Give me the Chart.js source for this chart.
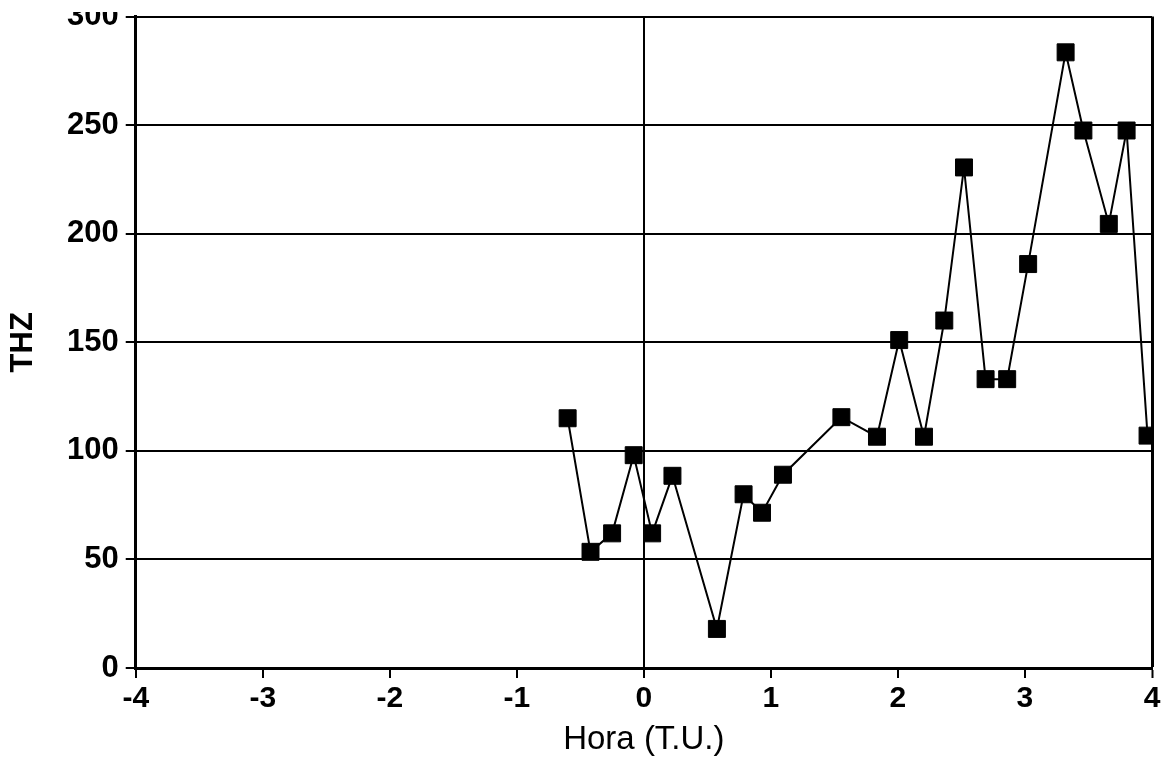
<!DOCTYPE html>
<html>
<head>
<meta charset="utf-8">
<title>THZ vs Hora (T.U.)</title>
<script src="https://cdn.jsdelivr.net/npm/chart.js@4/dist/chart.umd.min.js"></script>
<style>
    body { margin: 0; background: #fff; }
    /* the scan cuts the top of the "300" label, so clip the page a bit */
    #wrap { position: absolute; left: 0; top: 12px; width: 1167px; height: 747px; overflow: hidden; }
    #thz-chart { position: absolute; left: 0; top: -18px; }
</style>
</head>
<body>
<div id="wrap">
    <canvas id="thz-chart" width="1167" height="771"></canvas>
</div>
<script>
// Hora (T.U.) and THZ values
const horaUT = [-0.60, -0.42, -0.25, -0.08, 0.065, 0.225, 0.575, 0.785, 0.93, 1.095,
    1.555, 1.835, 2.01, 2.205, 2.365, 2.52, 2.69, 2.86, 3.025, 3.32,
    3.46, 3.66, 3.80, 3.965];
const thz = [115, 53.5, 62, 98, 62, 88.5, 18, 80, 71.5, 89,
    115.5, 106.5, 151, 106.5, 160, 230.5, 133, 133, 186, 283.5,
    247.5, 204.5, 247.5, 107];

const xRange = [-4, 4];
const yRange = [0, 300];

const FONT = "'Liberation Sans', Arial, sans-serif";

function initChart() {
    const ctx = document.getElementById('thz-chart');
    return new Chart(ctx, {
        type: 'scatter',
        data: {
            datasets: [{
                label: 'THZ',
                data: horaUT.map((x, i) => ({ x: x, y: thz[i] })),
                showLine: true,
                borderColor: '#000',
                borderWidth: 2,
                backgroundColor: '#000',
                pointStyle: 'rect',
                pointRadius: 12,
                pointBorderColor: '#000',
                pointBorderWidth: 1,
                tension: 0
            }]
        },
        options: {
            responsive: false,
            animation: false,
            layout: { padding: { left: 0, right: 15, top: 0, bottom: 0 } },
            plugins: {
                legend: { display: false },
                tooltip: { enabled: false }
            },
            scales: {
                x: {
                    type: 'linear',
                    min: xRange[0],
                    max: xRange[1],
                    ticks: {
                        stepSize: 1,
                        color: '#000',
                        padding: 6,
                        font: { family: FONT, size: 30, weight: 'bold', lineHeight: 1 }
                    },
                    grid: {
                        // only the 0 line and the right frame are drawn inside the plot
                        color: c => (c.tick && (c.tick.value === 0 || c.tick.value === 4)) ? '#000' : 'rgba(0,0,0,0)',
                        lineWidth: c => (c.tick && c.tick.value === 4) ? 3 : 2,
                        tickColor: '#000',
                        tickWidth: 2,
                        tickLength: 10
                    },
                    border: { color: '#000', width: 3 },
                    title: {
                        display: true,
                        text: 'Hora (T.U.)',
                        color: '#000',
                        font: { family: FONT, size: 33, weight: 'normal', lineHeight: 1 },
                        padding: { top: 3, bottom: 9 }
                    }
                },
                y: {
                    min: yRange[0],
                    max: yRange[1],
                    ticks: {
                        stepSize: 50,
                        color: '#000',
                        padding: 7,
                        font: { family: FONT, size: 31, weight: 'bold', lineHeight: 1 }
                    },
                    grid: {
                        color: '#000',
                        lineWidth: 2,
                        tickColor: '#000',
                        tickWidth: 2,
                        tickLength: 10
                    },
                    border: { color: '#000', width: 3 },
                    title: {
                        display: true,
                        text: 'THZ',
                        color: '#000',
                        font: { family: FONT, size: 31, weight: 'bold', lineHeight: 1 },
                        padding: { top: 8, bottom: 21 }
                    }
                }
            }
        }
    });
}

initChart();
</script>
</body>
</html>
